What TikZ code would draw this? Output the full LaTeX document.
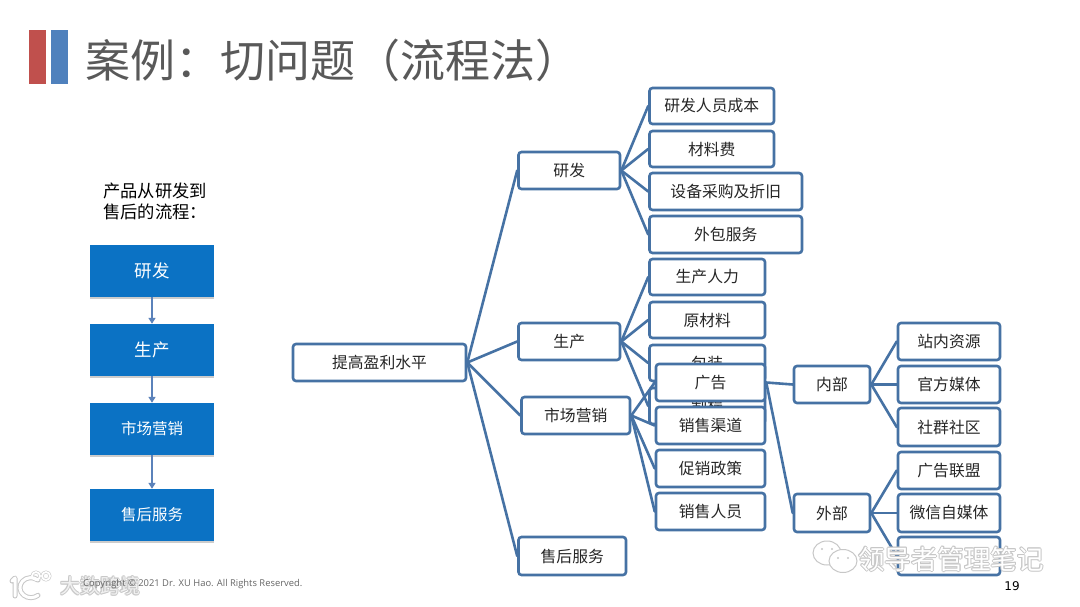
\documentclass[tikz,border=0pt]{standalone}
\usepackage{fontspec}
\setmainfont{Noto Sans CJK SC}
\newfontfamily\latinf{Open Sans}
\newfontfamily\numf{DejaVu Sans}
\usetikzlibrary{arrows.meta,shadows}
\pgfdeclarelayer{paper}\pgfdeclarelayer{conA}\pgfdeclarelayer{boxA}\pgfdeclarelayer{conB}
\pgfsetlayers{paper,conA,boxA,conB,main}
\definecolor{treeblue}{HTML}{4672A4}
\definecolor{flowblue}{HTML}{0B72C4}
\definecolor{flowarrow}{HTML}{5B82BA}
\definecolor{titlegray}{HTML}{595959}
\definecolor{barred}{HTML}{C0504D}
\definecolor{barblue}{HTML}{4F81BD}
\tikzset{
 x=1pt,y=-1pt,
 treebox/.style={draw=treeblue,line width=2.6pt,rounded corners=3pt,fill=white,inner sep=0pt,font=\fontsize{15.8}{18}\selectfont,text=black!85},
 treeline/.style={draw=treeblue,line width=2.6pt,line cap=round},
 flowbox/.style={fill=flowblue,inner sep=0pt,text=white,drop shadow={shadow xshift=0pt,shadow yshift=-1.5pt,opacity=.2,fill=black}},
 flowline/.style={draw=flowarrow,line width=1.6pt,-{Triangle[length=6pt,width=7pt]}},
 wmshade/.style={text=black!22,inner sep=0pt},
 wmtop/.style={text=white,inner sep=0pt},
 wmstroke/.style={line cap=round,line join=round},
}
% \bx{name}{x1}{y1}{x2}{y2}{text}
\newcommand{\bx}[6]{%
 \pgfmathsetmacro{\mycx}{(#2+#4)/2}\pgfmathsetmacro{\mycy}{(#3+#5)/2}%
 \pgfmathsetmacro{\myw}{#4-#2}\pgfmathsetmacro{\myh}{#5-#3}%
 \node[treebox,minimum width=\myw pt,minimum height=\myh pt] (#1) at (\mycx,\mycy) {#6};}
\newcommand{\fb}[5]{%
 \node[flowbox,minimum width=124pt,minimum height=52pt,font=\fontsize{#4}{#4}\selectfont] (#1) at (#2,#3) {#5};}
\newcommand{\linkA}[2]{\begin{pgfonlayer}{conA}\draw[treeline] (#1.east) -- (#2.west);\end{pgfonlayer}}
\newcommand{\linkB}[2]{\begin{pgfonlayer}{conB}\draw[treeline] (#1.east) -- (#2.west);\end{pgfonlayer}}
\newcommand{\wm}[5]{%
 \foreach \dx/\dy [count=\k] in {-1/0,1/0,0/-1,0/1,-.7/-.7,.7/.7,-.7/.7,.7/-.7}{
  \node[wmshade,font=\fontsize{#4}{#4}\selectfont] (#1s\k) at (#2+\dx,#3+\dy) {#5};}
 \node[wmtop,font=\fontsize{#4}{#4}\selectfont] (#1) at (#2,#3) {#5};}
\begin{document}
\begin{tikzpicture}
\useasboundingbox (0,0) rectangle (1080,607);
\begin{pgfonlayer}{paper}
\fill[white] (0,0) rectangle (1080,607);
\end{pgfonlayer}
% title
\fill[barred] (29,30) rectangle (46,84);
\fill[barblue] (50.5,30) rectangle (68,84);
\node[anchor=west,inner sep=0pt,text=titlegray,font=\fontsize{45}{48}\selectfont] (title) at (85,60) {案例：切问题（流程法）};
% left flow
\node[anchor=north west,inner sep=0pt,align=left,font=\fontsize{17.3}{20.5}\selectfont,text=black] (intro) at (103,183) {产品从研发到\\售后的流程：};
\fb{fa}{152}{271}{17.5}{研发}
\fb{fb}{152}{350}{17.5}{生产}
\fb{fc}{152}{429}{15.5}{市场营销}
\fb{fd}{152}{515}{15.5}{售后服务}
\draw[flowline] (fa) -- (fb);
\draw[flowline] (fb) -- (fc);
\draw[flowline] (fc) -- (fd);
% tree: boxes drawn first, hidden ones under the marketing group
\begin{pgfonlayer}{boxA}
\bx{rd}{518.5}{152}{620}{189}{研发}
\bx{rda}{649.5}{88}{774}{124}{研发人员成本}
\bx{rdb}{649.5}{131}{774}{167}{材料费}
\bx{rdc}{649.5}{173}{802}{210}{设备采购及折旧}
\bx{rdd}{649.5}{216}{802}{253}{外包服务}
\bx{pr}{518.5}{323}{620}{360}{生产}
\bx{pra}{649.5}{259}{765}{295}{生产人力}
\bx{prb}{649.5}{302}{765}{338}{原材料}
\bx{prc}{649.5}{345}{765}{381}{包装}
\bx{prd}{649.5}{388}{765}{424}{制程}
\end{pgfonlayer}
\bx{root}{293}{344}{466}{381}{提高盈利水平}
\bx{mk}{521.5}{397}{630}{434}{市场营销}
\bx{as}{518.5}{537}{626}{575}{售后服务}
\bx{mka}{656}{364}{765}{401}{广告}
\bx{mkb}{656}{407}{765}{444}{销售渠道}
\bx{mkc}{656}{450}{765}{487}{促销政策}
\bx{mkd}{656}{493}{765}{530}{销售人员}
\bx{inn}{794}{366}{870}{403}{内部}
\bx{out}{794}{494}{870}{532}{外部}
\bx{ina}{898}{323}{1000}{360}{站内资源}
\bx{inb}{898}{366}{1000}{403}{官方媒体}
\bx{inc}{898}{408}{1000}{446}{社群社区}
\bx{outa}{898}{452}{1000}{489}{广告联盟}
\bx{outb}{898}{494}{1000}{532}{微信自媒体}
\bx{outc}{898}{537}{1000}{575}{}
\linkA{root}{rd}\linkA{root}{pr}\linkA{root}{mk}\linkA{root}{as}
\linkA{rd}{rda}\linkA{rd}{rdb}\linkA{rd}{rdc}\linkA{rd}{rdd}
\linkA{pr}{pra}\linkA{pr}{prb}\linkA{pr}{prc}\linkA{pr}{prd}
\linkB{mk}{mka}\linkB{mk}{mkb}\linkB{mk}{mkc}\linkB{mk}{mkd}
\linkB{mka}{inn}\linkB{mka}{out}
\linkB{inn}{ina}\linkB{inn}{inb}\linkB{inn}{inc}
\linkB{out}{outa}\linkB{out}{outb}\linkB{out}{outc}
% watermarks
\wm{wma}{951}{559}{26.5}{领导者管理笔记}
\begin{scope}[opacity=.75]
\wm{wmb}{100}{586}{20}{大数跨境}
\end{scope}
% footer
\node[anchor=west,inner sep=0pt,text=black!60,font=\latinf\fontsize{9.4}{10}\selectfont] (copy) at (83,584.5) {Copyright © 2021 Dr. XU Hao. All Rights Reserved.};
\node[inner sep=0pt,font=\numf\fontsize{12}{12}\selectfont,text=black] (page) at (1012,586) {19};
% WeChat mark
\draw[black!22,fill=white,line width=1pt] (827,553) ellipse (14 and 12);
\draw[black!22,fill=white,line width=1pt] (843,561) ellipse (14 and 11.5);
\fill[black!22] (822,549) circle (1.2) (832,549) circle (1.2) (838,558) circle (1.2) (848,558) circle (1.2);
% left logo
\foreach \w/\c in {5/black!22,3/white}{
 \draw[wmstroke,draw=\c,line width=\w pt] (12,581) -- (15,578) -- (15,596);
 \draw[wmstroke,draw=\c,line width=\w pt] (38,580) arc[start angle=-50,end angle=-310,x radius=11,y radius=10];
 \draw[wmstroke,draw=\c,line width=.6*\w pt] (36,576) circle (4);
 \draw[wmstroke,draw=\c,line width=.6*\w pt] (46,576) circle (4);
}
\end{tikzpicture}
\end{document}
